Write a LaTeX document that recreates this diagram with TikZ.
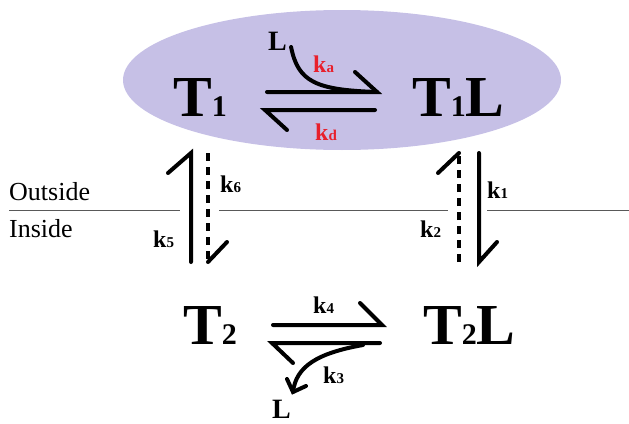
\documentclass[tikz,border=0pt]{standalone}
\usepackage{fontspec}
\setmainfont{Liberation Serif}
\usetikzlibrary{calc}
\definecolor{lav}{RGB}{198,192,230}
\definecolor{kred}{RGB}{232,32,44}
\newcommand{\sbs}[1]{{\fontsize{30}{30}\selectfont #1}}
\newcommand{\kl}[1]{{\fontsize{24}{24}\selectfont k}{\fontsize{15}{15}\selectfont #1}}

\begin{document}
\begin{tikzpicture}[x=1pt,y=-1pt,line cap=round,
  arr/.style={line width=4pt},dsh/.style={line width=4pt,line cap=butt,dash pattern=on 8pt off 6pt},
  lbl/.style={inner sep=0pt,anchor=base west,font=\bfseries},
  spec/.style={lbl,font=\fontsize{58}{58}\selectfont\bfseries},
  txt/.style={inner sep=0pt,anchor=base west,font=\fontsize{26}{26}\selectfont}]
\useasboundingbox(0,0)rectangle(629,423);
\fill[lav](342,80)ellipse[x radius=219pt,y radius=70pt];
\node[spec](t1)at(173,116){T\sbs{1}};\node[spec](t1l)at(412,116){T\sbs{1}L};
\node[spec](t2)at(183,344){T\sbs{2}};\node[spec](t2l)at(423,344){T\sbs{2}L};
\node[lbl,font=\fontsize{28}{28}\selectfont\bfseries](la)at(268,50){L};
\node[lbl,font=\fontsize{28}{28}\selectfont\bfseries](lb)at(272,418){L};
\node[lbl,kred](ka)at(313,72){\kl{a}};\node[lbl,kred](kd)at(315,140){\kl{d}};
\node[lbl](k1)at(487,198){\kl{1}};\node[lbl](k2)at(420,237){\kl{2}};
\node[lbl](k3)at(323,383){\kl{3}};\node[lbl](k4)at(313,313){\kl{4}};
\node[lbl](k5)at(153,247){\kl{5}};\node[lbl](k6)at(220,192){\kl{6}};
\node[txt](out)at(9,200){Outside};\node[txt](in)at(9,237){Inside};
\draw[gray!70!black,line width=1pt,line cap=butt](9,210)--(180,210) (219,210)--(448,210) (487,210)--(629,210);
\coordinate(a1)at(267,92);\coordinate(a2)at(377,92);\coordinate(b1)at(375,110);\coordinate(b2)at(265,110);
\draw[arr](a1)--(a2)--++(-22,-20);\draw[arr](b1)--(b2)--++(22,20);
\draw[arr]($(la.base east)+(4,-3)$)..controls(298,82)and(316,90)..(a2);
\coordinate(c1)at(273,325);\coordinate(c2)at(382,325);\coordinate(d1)at(380,343);\coordinate(d2)at(272,343);
\draw[arr](c1)--(c2)--++(-22,-22);\draw[arr](d1)--(d2)--++(21,20);
\coordinate(e1)at(363,345);\coordinate(e2)at(293,392);
\draw[arr](e1)..controls(318,353)and(296,366)..(e2);
\draw[arr]($(e2)+(-6,-13)$)--(e2)--($(e2)+(13,-6)$);
\coordinate(u1)at(191,262);\coordinate(u2)at(191,153);\coordinate(v1)at(208,153);\coordinate(v2)at(208,262);
\draw[arr](u1)--(u2)--++(-23,20);\draw[dsh](v1)--(v2);\draw[arr](v2)--++(19,-20);
\coordinate(w1)at(459,262);\coordinate(w2)at(459,153);\coordinate(z1)at(479,153);\coordinate(z2)at(479,262);
\draw[dsh](w1)--(w2);\draw[arr](w2)--++(-21,20);\draw[arr](z1)--(z2)--++(18,-20);
\end{tikzpicture}
\end{document}
